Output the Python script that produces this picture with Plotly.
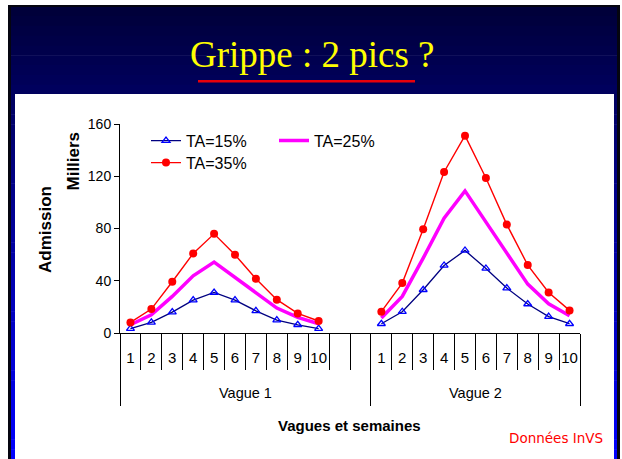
import plotly.graph_objects as go

# ---------------- data ----------------
weeks = ["1", "2", "3", "4", "5", "6", "7", "8", "9", "10"]
gap_labels = ["", ""]
waves = ["Vague 1", "Vague 2"]
series_names = ["TA=15%", "TA=25%", "TA=35%"]

v1_ta15 = [3.3, 8.1, 16.0, 25.2, 31.0, 25.2, 17.0, 9.9, 6.3, 3.3]
v1_ta25 = [6.3, 14.0, 28.0, 43.8, 54.3, 42.5, 30.6, 19.1, 11.9, 7.1]
v1_ta35 = [8.1, 18.3, 39.2, 60.9, 75.9, 59.9, 41.5, 25.5, 15.0, 9.2]
v2_ta15 = [7.1, 16.3, 33.1, 51.7, 63.2, 49.4, 34.4, 22.2, 12.5, 7.1]
v2_ta25 = [11.5, 28.0, 57.3, 87.9, 108.8, 85.3, 61.1, 37.4, 22.4, 13.2]
v2_ta35 = [16.3, 38.2, 79.5, 123.3, 151.1, 118.7, 83.0, 52.0, 31.0, 17.3]

y_ticks = [0, 40, 80, 120, 160]

# ---------------- layout geometry ----------------
W, H = 622, 459
L, R, T, B = 120, 42, 124, 126
PW, PH = W - L - R, H - T - B


def px(x):
    return (x - L) / PW


def py(y):
    return (H - B - y) / PH


slot_labels = weeks + gap_labels + weeks
slots = list(range(len(slot_labels)))
n1 = len(weeks) + len(gap_labels)


def full(v1, v2):
    return v1 + [None] * len(gap_labels) + v2


fig = go.Figure()

fig.add_trace(go.Scatter(
    x=slots, y=full(v1_ta15, v2_ta15), name=series_names[0],
    mode="lines+markers", legend="legend",
    line=dict(color="#000080", width=1.3),
    marker=dict(symbol="triangle-up-open", size=7, color="#0000ff",
                line=dict(width=1.3, color="#0000ff")),
))
fig.add_trace(go.Scatter(
    x=slots, y=full(v1_ta25, v2_ta25), name=series_names[1],
    mode="lines", legend="legend2",
    line=dict(color="#ff00ff", width=3.5),
))
fig.add_trace(go.Scatter(
    x=slots, y=full(v1_ta35, v2_ta35), name=series_names[2],
    mode="lines+markers", legend="legend3",
    line=dict(color="#ff0000", width=1.4),
    marker=dict(symbol="circle", size=8, color="#ff0000"),
))
# dummy trace to keep the group axis alive
fig.add_trace(go.Scatter(x=[None], y=[None], xaxis="x2", showlegend=False,
                         hoverinfo="skip"))

# ---------------- background slide ----------------
shapes = []
top, bottom = 6, H
nb = 46
c0 = (0, 0, 56)
c1 = (0, 0, 255)
for i in range(nb):
    y0 = top + (bottom - top) * i / nb
    y1 = top + (bottom - top) * (i + 1) / nb + 0.5
    f = (i + 0.5) / nb
    col = "rgb(%d,%d,%d)" % tuple(round(a + (b - a) * f) for a, b in zip(c0, c1))
    shapes.append(dict(type="rect", xref="paper", yref="paper", layer="below",
                       x0=px(8), x1=px(620), y0=py(y0), y1=py(y1),
                       fillcolor=col, line=dict(width=0)))
# black frame lines
for (xa, xb, ya, yb) in [(8, 11, 5, H), (617, 620, 5, H), (8, 620, 5, 7)]:
    shapes.append(dict(type="rect", xref="paper", yref="paper", layer="below",
                       x0=px(xa), x1=px(xb), y0=py(ya), y1=py(yb),
                       fillcolor="#050510", line=dict(width=0)))
# white panel
shapes.append(dict(type="rect", xref="paper", yref="paper", layer="below",
                   x0=px(15), x1=px(614), y0=py(94), y1=py(H + 2),
                   fillcolor="white", line=dict(width=0)))
# red underline
shapes.append(dict(type="rect", xref="paper", yref="paper", layer="below",
                   x0=px(198), x1=px(415), y0=py(80), y1=py(82.5),
                   fillcolor="#e8000a", line=dict(width=0)))

annotations = [
    dict(text="Grippe : 2 pics ?", xref="paper", yref="paper",
         x=px(312), y=py(54), xanchor="center", yanchor="middle", showarrow=False,
         font=dict(family="Liberation Serif, Times New Roman, serif", size=37, color="#ffff00")),
    dict(text="<b>Admission</b>", xref="paper", yref="paper", textangle=-90,
         x=px(45), y=py(230), xanchor="center", yanchor="middle", showarrow=False,
         font=dict(family="Liberation Sans, Arial, sans-serif", size=17, color="black")),
    dict(text="<b>Milliers</b>", xref="paper", yref="paper", textangle=-90,
         x=px(72.5), y=py(161), xanchor="center", yanchor="middle", showarrow=False,
         font=dict(family="Liberation Sans, Arial, sans-serif", size=17, color="black")),
    dict(text="<b>Vagues et semaines</b>", xref="paper", yref="paper",
         x=px(349), y=py(425), xanchor="center", yanchor="middle", showarrow=False,
         font=dict(family="Liberation Sans, Arial, sans-serif", size=15, color="black")),
    dict(text="Données InVS", xref="paper", yref="paper",
         x=px(556), y=py(438), xanchor="center", yanchor="middle", showarrow=False,
         font=dict(family="DejaVu Sans, Verdana, sans-serif", size=13.5, color="#ff0000")),
]

boundaries = [s - 0.5 for s in slots] + [slots[-1] + 0.5]
xr = [-0.5, slots[-1] + 0.5]
group_centers = [(-0.5 + n1 - 0.5) / 2, (n1 - 0.5 + slots[-1] + 0.5) / 2]
group_bounds = [-0.5, n1 - 0.5, slots[-1] + 0.5]

legend_font = dict(family="Liberation Sans, Arial, sans-serif", size=16, color="black")
leg_common = dict(orientation="v", bgcolor="rgba(0,0,0,0)", borderwidth=0,
                  font=legend_font, xanchor="left", yanchor="middle",
                  xref="paper", yref="paper", tracegroupgap=0)

fig.update_layout(
    width=W, height=H,
    margin=dict(l=L, r=R, t=T, b=B, pad=0),
    paper_bgcolor="white", plot_bgcolor="rgba(0,0,0,0)",
    font=dict(family="Liberation Sans, Arial, sans-serif", color="black"),
    shapes=shapes, annotations=annotations,
    hovermode=False,
    xaxis=dict(
        range=xr, tickmode="array", tickvals=slots, ticktext=slot_labels,
        ticks="outside", ticklen=11, tickcolor="rgba(0,0,0,0)",
        tickfont=dict(size=15, family="Liberation Sans, Arial, sans-serif"),
        showline=True, linecolor="black", linewidth=1, showgrid=False, zeroline=False,
        minor=dict(tickmode="array", tickvals=boundaries, ticks="outside",
                   ticklen=36, tickcolor="black", tickwidth=1, showgrid=False),
        fixedrange=True,
    ),
    xaxis2=dict(
        overlaying="x", side="bottom", range=xr,
        tickmode="array", tickvals=group_centers, ticktext=waves,
        ticks="outside", ticklen=47, tickcolor="rgba(0,0,0,0)",
        tickfont=dict(size=14.5, family="Liberation Sans, Arial, sans-serif"),
        showline=False, showgrid=False, zeroline=False,
        minor=dict(tickmode="array", tickvals=group_bounds, ticks="outside",
                   ticklen=72, tickcolor="black", tickwidth=1, showgrid=False),
        fixedrange=True,
    ),
    yaxis=dict(
        range=[0, 160], tickmode="array", tickvals=y_ticks,
        ticks="outside", ticklen=5, tickcolor="black",
        tickfont=dict(size=14, family="Liberation Sans, Arial, sans-serif"),
        showline=True, linecolor="black", linewidth=1, showgrid=False, zeroline=False,
        fixedrange=True,
    ),
    legend=dict(leg_common, x=px(146), y=py(140.7)),
    legend2=dict(leg_common, x=px(274), y=py(140.5)),
    legend3=dict(leg_common, x=px(146), y=py(162.7)),
)

fig.write_html("out.html", config={"displayModeBar": False},
               post_script="document.body.style.margin='0';document.body.style.overflow='hidden';")
